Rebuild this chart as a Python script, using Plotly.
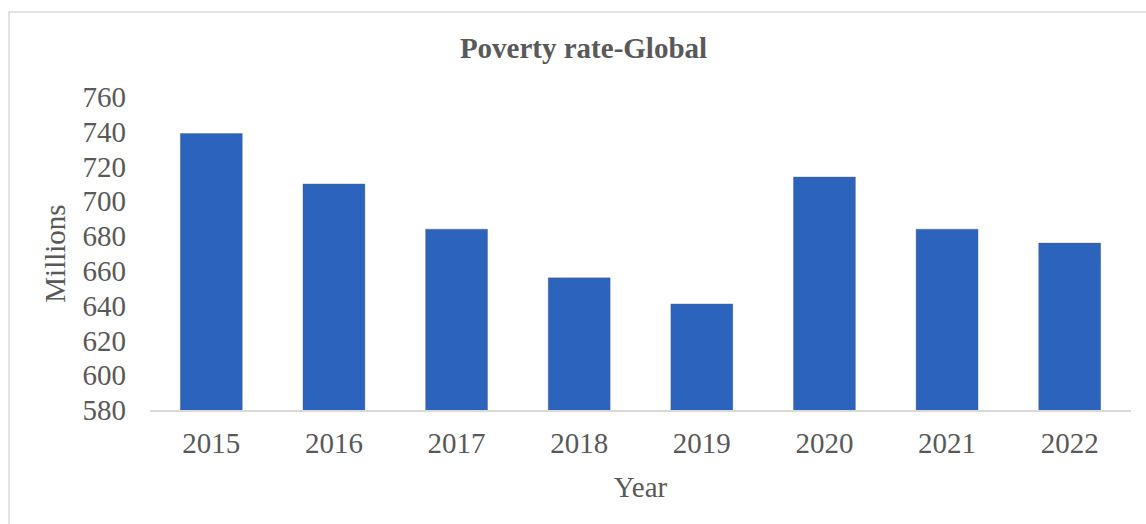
import plotly.graph_objects as go

years = ["2015", "2016", "2017", "2018", "2019", "2020", "2021", "2022"]
poverty_millions = [739, 710, 684, 656, 641, 714, 684, 676]
y_ticks = [580, 600, 620, 640, 660, 680, 700, 720, 740, 760]

W, H = 1146, 524
L, R, T, B = 150, 15, 97, 114
pw = W - L - R
ph = H - T - B

fig = go.Figure()
fig.add_trace(go.Bar(
    x=years,
    y=poverty_millions,
    marker=dict(color="#2C64BD", line=dict(color="rgba(90,90,90,0.35)", width=1)),
    width=0.505,
))

font_family = "Liberation Serif, Times New Roman, serif"
txt = "#595959"
fs = 29

fig.update_layout(
    width=W, height=H,
    margin=dict(l=L, r=R, t=T, b=B),
    paper_bgcolor="white", plot_bgcolor="white",
    showlegend=False,
    font=dict(family=font_family, color=txt, size=fs),
    title=dict(
        text="<b>Poverty rate-Global</b>",
        font=dict(family=font_family, size=29, color=txt),
        x=(583.5 - L) / pw, xref="paper", xanchor="center",
        y=1 - 48 / H, yref="container", yanchor="middle",
    ),
    xaxis=dict(
        type="category",
        showline=True, linecolor="#D9D9D9", linewidth=1.5,
        showgrid=False, ticks="",
        tickfont=dict(size=fs, color=txt, family=font_family),
        ticklabelstandoff=6,
        title=dict(text="Year", font=dict(size=fs, color=txt, family=font_family), standoff=19),
    ),
    yaxis=dict(
        range=[580, 760],
        tickvals=y_ticks,
        showline=False, showgrid=False, zeroline=False, ticks="",
        tickfont=dict(size=fs, color=txt, family=font_family),
        ticklabelstandoff=23,
        title=dict(text="Millions", font=dict(size=fs, color=txt, family=font_family), standoff=8),
    ),
    bargap=0.5,
)

# outer chart border (light gray)
fig.add_shape(
    type="rect", xref="paper", yref="paper",
    x0=(9 - L) / pw, x1=(W + 20 - L) / pw,
    y0=-(H + 20 - (H - B)) / ph, y1=(H - B - 12) / ph,
    line=dict(color="#D9D9D9", width=1.5), fillcolor="rgba(0,0,0,0)",
    layer="below",
)

fig.write_html("out.html")
